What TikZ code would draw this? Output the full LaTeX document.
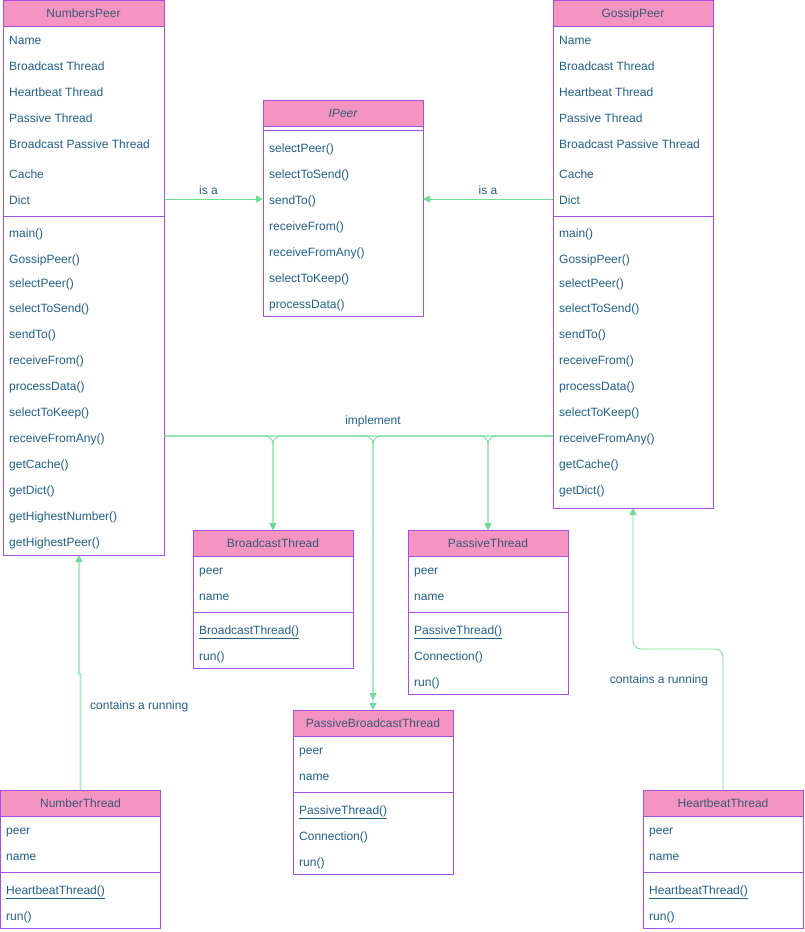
\documentclass[tikz,border=0pt]{standalone}
\usepackage{fontspec}
\setmainfont{Liberation Sans}
\usetikzlibrary{arrows.meta}

\definecolor{headfill}{HTML}{F494C1}
\definecolor{border}{HTML}{A94FE6}
\definecolor{ink}{HTML}{22608A}
\definecolor{headink}{HTML}{3B5878}
\definecolor{lgreen}{HTML}{6EDC94}
\definecolor{pale}{HTML}{A8EEC2}

\newcommand\itemfont{\fontsize{12}{14}\selectfont}

% one UML class: name, x, y, width, height, title, y of the separator line
\newcommand\umlclass[7]{%
  \node[classbody, minimum width=#4, minimum height=#5] (#1) at (#2,#3) {};
  \node[classhead, minimum width=#4] (#1-head) at (#2,#3) {#6};
  \draw[sepline] (#1.west |- 0,#7) -- (#1.east |- 0,#7);
}
% rows of a class: prefix, x, list of text/y
\newcommand\umlitems[3]{%
  \foreach \txt/\yy [count=\i] in {#3}
    \node[item] (#1-\i) at (#2,\yy+4.3) {\txt};
}

\tikzset{
  classbody/.style={draw=border, fill=white, line width=1pt, anchor=north west,
    inner sep=0pt, outer sep=0pt},
  classhead/.style={draw=border, fill=headfill, line width=1pt, anchor=north west,
    minimum height=26, inner sep=0pt, outer sep=0pt, text=headink, font=\itemfont,
    text height=8.6pt, text depth=0pt},
  sepline/.style={draw=border, line width=1pt},
  item/.style={anchor=base west, inner sep=0pt, text=ink, font=\itemfont},
  lbl/.style={inner sep=0pt, text=ink, font=\itemfont, text height=8.6pt, text depth=0pt},
  tip/.style={-{Triangle[length=7pt,width=7pt,color=lgreen]}},
  link/.style={draw=lgreen, line width=0.8pt, tip, rounded corners=8pt},
}

\begin{document}
\begin{tikzpicture}[x=1pt,y=-1pt]
\useasboundingbox (0,0) rectangle (804,932);

% ---------- peers ----------
\umlclass{np}{3}{0.5}{161}{554.5}{NumbersPeer}{216}
\umlitems{npa}{9}{Name/40, Broadcast Thread/66, Heartbeat Thread/92, Passive Thread/118,
  Broadcast Passive Thread/144, Cache/174, Dict/200}
\umlitems{npm}{9}{main()/233, GossipPeer()/259, selectPeer()/283, selectToSend()/308,
  sendTo()/334, receiveFrom()/360, processData()/386, selectToKeep()/412,
  receiveFromAny()/438, getCache()/464, getDict()/490, getHighestNumber()/516,
  getHighestPeer()/542}

\umlclass{gp}{553}{0.5}{160}{507.5}{GossipPeer}{216}
\umlitems{gpa}{559}{Name/40, Broadcast Thread/66, Heartbeat Thread/92, Passive Thread/118,
  Broadcast Passive Thread/144, Cache/174, Dict/200}
\umlitems{gpm}{559}{main()/233, GossipPeer()/259, selectPeer()/283, selectToSend()/308,
  sendTo()/334, receiveFrom()/360, processData()/386, selectToKeep()/412,
  receiveFromAny()/438, getCache()/464, getDict()/490}

% ---------- interface ----------
\umlclass{ip}{263}{100}{160}{216}{\itshape IPeer}{130}
\umlitems{ipm}{269}{selectPeer()/148, selectToSend()/174, sendTo()/200, receiveFrom()/226,
  receiveFromAny()/252, selectToKeep()/278, processData()/304}

% ---------- threads ----------
\umlclass{bt}{193}{530}{160}{138}{BroadcastThread}{612}
\umlitems{bti}{199}{peer/570, name/596, \underline{BroadcastThread()}/630, run()/656}

\umlclass{pt}{408}{530}{160}{164}{PassiveThread}{612}
\umlitems{pti}{414}{peer/570, name/596, \underline{PassiveThread()}/630, Connection()/656, run()/682}

\umlclass{pbt}{293}{710}{160}{164}{PassiveBroadcastThread}{792}
\umlitems{pbti}{299}{peer/750, name/776, \underline{PassiveThread()}/810, Connection()/836, run()/862}

\umlclass{nt}{0.5}{790}{160}{138}{NumberThread}{872}
\umlitems{nti}{6}{peer/830, name/856, \underline{HeartbeatThread()}/890, run()/916}

\umlclass{hb}{643}{790}{160}{138}{HeartbeatThread}{872}
\umlitems{hbi}{649}{peer/830, name/856, \underline{HeartbeatThread()}/890, run()/916}

% ---------- is a ----------
\draw[link] (np.east |- 0,199) -- (ip.west |- 0,199)
  node[lbl, pos=0.45, yshift=9pt] {is a};
\draw[link] (gp.west |- 0,199) -- (ip.east |- 0,199)
  node[lbl, midway, yshift=9pt] {is a};

% ---------- implement ----------
\coordinate (imp) at (373,436);
\node[lbl] (implabel) at (373,420) {implement};
\draw[link] (np.east |- imp) -| (bt.north);
\draw[link] (gp.west |- imp) -| (bt.north);
\draw[link] (np.east |- imp) -| (pt.north);
\draw[link] (gp.west |- imp) -| (pt.north);
\draw[link] (np.east |- imp) -| (pbt.north);
\draw[link, shorten >=10pt] (gp.west |- imp) -| (pbt.north);

% ---------- contains a running ----------
\coordinate (ntjog) at (79,674);
\draw[link, draw=pale, line width=1.6pt, rounded corners=1.5pt]
  (nt.north) |- (ntjog) -- (np.south -| ntjog);
\node[lbl, anchor=west] (ntlabel) at (90,705) {contains a running};

\coordinate (hbjog) at (633,649);
\draw[link] (hb.north) |- (hbjog) -- (gp.south -| hbjog);
\node[lbl] (hblabel) at (659,679) {contains a running};
\end{tikzpicture}
\end{document}
